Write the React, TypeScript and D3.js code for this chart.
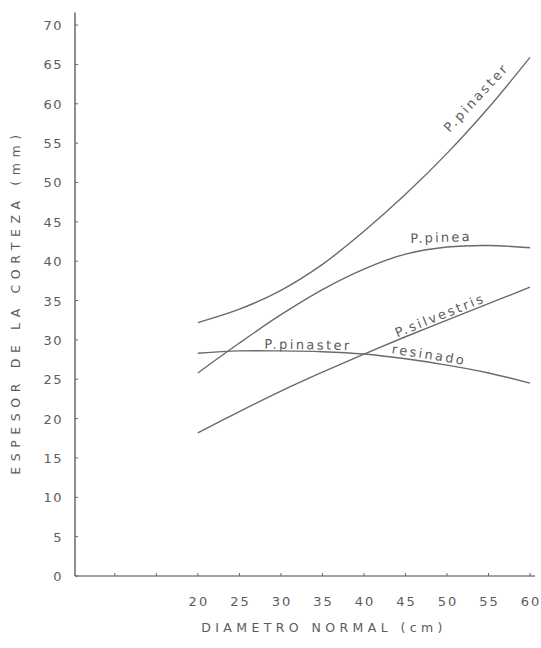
import React from "react";
import * as d3 from "d3";

const diameters = [20, 25, 30, 35, 40, 45, 50, 55, 60];
const pinaster = [32.2, 33.9, 36.3, 39.6, 43.8, 48.5, 53.7, 59.5, 65.9];
const pinea = [25.8, 29.6, 33.2, 36.4, 39.0, 40.9, 41.8, 42.0, 41.7];
const resinado = [28.3, 28.6, 28.6, 28.5, 28.2, 27.6, 26.8, 25.8, 24.5];
const silvestris = [18.2, 20.9, 23.5, 25.9, 28.2, 30.4, 32.5, 34.6, 36.7];

const xTicks = [10, 15, 20, 25, 30, 35, 40, 45, 50, 55, 60];
const xTickLabels = [20, 25, 30, 35, 40, 45, 50, 55, 60];
const yTicks = [0, 5, 10, 15, 20, 25, 30, 35, 40, 45, 50, 55, 60, 65, 70];

const W = 541;
const H = 648;
const INK = "#5c5c5c";
const LINE = "#6a6a6a";
const FONT = "'DejaVu Sans', 'Open Sans', sans-serif";

export default function App() {
  const x = d3.scaleLinear().domain([5.2, 60.6]).range([75, 535]);
  const y = d3.scaleLinear().domain([0, 71.6]).range([576, 12.5]);
  const line = d3
    .line<number>()
    .x((_, i) => x(diameters[i]))
    .y((d) => y(d))
    .curve(d3.curveCatmullRom.alpha(0.5));

  const series = [pinaster, pinea, resinado, silvestris];

  const label = (
    text: string,
    cx: number,
    cy: number,
    angle: number,
    size = 13,
    spacing = 2
  ) => (
    <text
      x={x(cx)}
      y={y(cy)}
      transform={`rotate(${angle} ${x(cx)} ${y(cy)})`}
      fontFamily={FONT}
      fontSize={size}
      letterSpacing={spacing}
      fill={INK}
    >
      {text}
    </text>
  );

  return (
    <svg
      width={W}
      height={H}
      style={{ position: "absolute", left: 0, top: 0, background: "#fff" }}
    >
      <rect width={W} height={H} fill="#fff" />
      {/* axes */}
      <line x1={x(5.2)} x2={x(5.2)} y1={y(0)} y2={y(71.6)} stroke="#444" strokeWidth={1.2} />
      <line x1={x(5.2)} x2={x(60.6)} y1={y(0)} y2={y(0)} stroke="#444" strokeWidth={1.2} />
      {yTicks.map((t) => (
        <g key={"y" + t}>
          <line x1={x(5.2)} x2={x(5.2) + 3} y1={y(t)} y2={y(t)} stroke="#666" strokeWidth={1} />
          <text
            x={63}
            y={y(t) + 5}
            textAnchor="end"
            fontFamily={FONT}
            fontSize={13}
            letterSpacing={1.5}
            fill={INK}
          >
            {t}
          </text>
        </g>
      ))}
      {xTicks.map((t) => (
        <line key={"xt" + t} x1={x(t)} x2={x(t)} y1={y(0)} y2={y(0) - 3} stroke="#666" strokeWidth={1} />
      ))}
      {xTickLabels.map((t) => (
        <text
          key={"xl" + t}
          x={x(t) + 1}
          y={606}
          textAnchor="middle"
          fontFamily={FONT}
          fontSize={13}
          letterSpacing={2}
          fill={INK}
        >
          {t}
        </text>
      ))}
      <text
        x={324}
        y={632}
        textAnchor="middle"
        fontFamily={FONT}
        fontSize={12.5}
        letterSpacing={4.4}
        fill={INK}
      >
        DIAMETRO NORMAL (cm)
      </text>
      <text
        transform={`translate(20, 302) rotate(-90)`}
        textAnchor="middle"
        fontFamily={FONT}
        fontSize={12.5}
        letterSpacing={5.6}
        fill={INK}
      >
        ESPESOR DE LA CORTEZA (mm)
      </text>
      {/* curves */}
      {series.map((s, i) => (
        <path key={i} d={line(s) || ""} fill="none" stroke={LINE} strokeWidth={1.4} />
      ))}
      {/* labels */}
      {label("P.pinaster", 50.3, 56.3, -47, 13, 2.5)}
      {label("P.pinea", 45.6, 42.3, -2, 13, 2.2)}
      {label("P.pinaster", 28.0, 28.9, 1, 13, 2.4)}
      {label("P.silvestris", 44.0, 30.3, -22, 13, 2.4)}
      {label("resinado", 43.3, 28.3, 9, 13, 2.4)}
    </svg>
  );
}
